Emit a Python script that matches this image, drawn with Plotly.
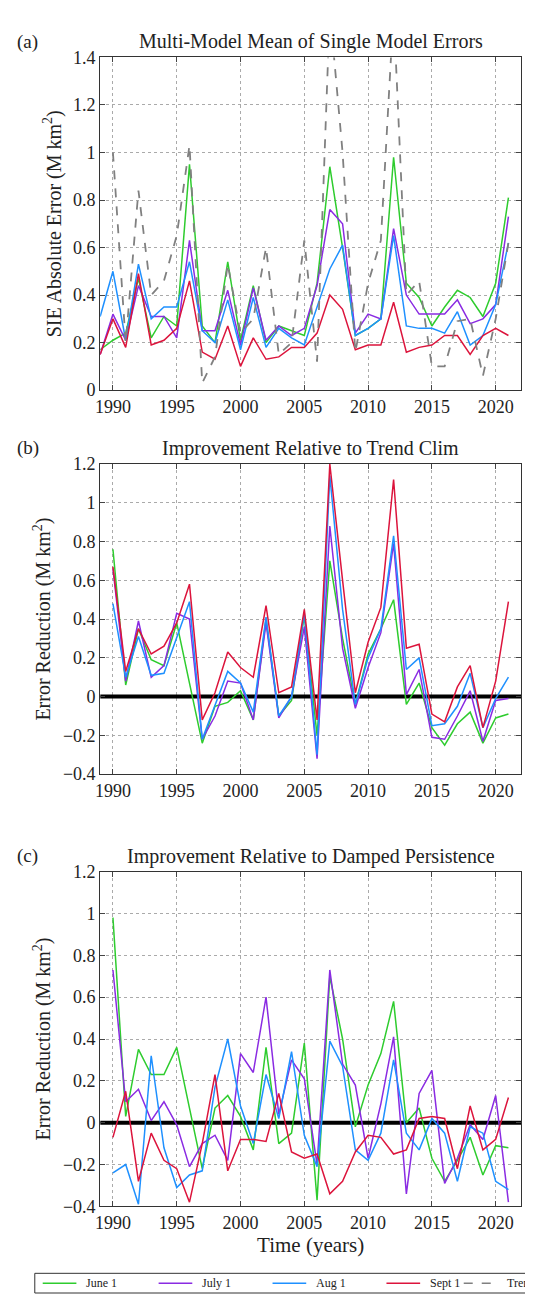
import plotly.graph_objects as go

years_a = list(range(1989, 2022))
years = list(range(1990, 2022))

# panel (a): multi-model mean of single model errors
err_june = [0.17, 0.21, 0.24, 0.47, 0.22, 0.31, 0.27, 0.95, 0.27, 0.20, 0.54, 0.21, 0.44, 0.20, 0.27, 0.25, 0.23,
            0.45, 0.94, 0.60, 0.23, 0.26, 0.30, 0.98, 0.45, 0.39, 0.27, 0.35, 0.42, 0.39, 0.31, 0.45, 0.81]
err_july = [0.15, 0.32, 0.21, 0.44, 0.31, 0.31, 0.22, 0.63, 0.25, 0.25, 0.42, 0.19, 0.43, 0.21, 0.27, 0.23, 0.26,
            0.44, 0.76, 0.70, 0.24, 0.32, 0.30, 0.68, 0.40, 0.32, 0.32, 0.32, 0.38, 0.28, 0.30, 0.36, 0.73]
err_aug = [0.31, 0.50, 0.21, 0.53, 0.30, 0.35, 0.35, 0.54, 0.25, 0.20, 0.38, 0.17, 0.39, 0.18, 0.26, 0.22, 0.19,
           0.35, 0.51, 0.61, 0.23, 0.26, 0.30, 0.65, 0.27, 0.26, 0.26, 0.24, 0.33, 0.19, 0.23, 0.36, 0.62]
err_sept = [0.15, 0.30, 0.18, 0.49, 0.19, 0.21, 0.26, 0.46, 0.16, 0.13, 0.27, 0.10, 0.22, 0.13, 0.14, 0.18, 0.18,
            0.24, 0.40, 0.34, 0.17, 0.19, 0.19, 0.37, 0.16, 0.18, 0.19, 0.23, 0.23, 0.15, 0.23, 0.26, 0.23]
err_trend = [1.00, 0.20, 0.84, 0.40, 0.46, 0.65, 1.03, 0.03, 0.14, 0.53, 0.24, 0.30, 0.60, 0.15, 0.20, 0.63,
             0.12, 1.60, 1.00, 0.16, 0.45, 0.63, 1.60, 0.40, 0.46, 0.10, 0.10, 0.29, 0.30, 0.06, 0.30, 0.62]

# panel (b): improvement relative to trend clim
tc_june = [0.76, 0.06, 0.35, 0.19, 0.16, 0.38, 0.07, -0.24, -0.05, -0.03, 0.03, -0.12, 0.40, -0.10, -0.02, 0.42,
           -0.20, 0.70, 0.30, -0.04, 0.22, 0.35, 0.50, -0.04, 0.07, -0.16, -0.25, -0.14, -0.08, -0.24, -0.11, -0.09]
tc_july = [0.66, 0.08, 0.39, 0.10, 0.16, 0.43, 0.40, -0.22, -0.10, 0.08, 0.07, -0.12, 0.38, -0.11, 0.00, 0.36,
           -0.32, 0.88, 0.25, -0.06, 0.15, 0.33, 0.79, 0.01, 0.14, -0.21, -0.22, -0.10, 0.03, -0.23, -0.02, -0.01]
tc_aug = [0.48, 0.10, 0.31, 0.11, 0.12, 0.30, 0.49, -0.22, -0.05, 0.13, 0.07, -0.08, 0.41, -0.10, 0.00, 0.43,
          -0.30, 1.14, 0.45, -0.04, 0.20, 0.35, 0.83, 0.14, 0.20, -0.15, -0.14, -0.05, 0.12, -0.16, -0.01, 0.10]
tc_sept = [0.67, 0.13, 0.35, 0.22, 0.26, 0.38, 0.58, -0.12, 0.02, 0.23, 0.15, 0.10, 0.47, 0.02, 0.05, 0.45,
           -0.12, 1.20, 0.60, 0.02, 0.28, 0.46, 1.12, 0.25, 0.27, -0.09, -0.13, 0.05, 0.16, -0.16, 0.08, 0.49]

# panel (c): improvement relative to damped persistence
dp_june = [0.98, 0.03, 0.35, 0.23, 0.23, 0.36, 0.07, -0.22, 0.07, 0.13, 0.03, -0.13, 0.36, -0.10, -0.05, 0.38,
           -0.37, 0.70, 0.40, -0.02, 0.18, 0.33, 0.58, 0.00, 0.07, -0.17, -0.28, -0.18, -0.07, -0.25, -0.11, -0.12]
dp_july = [0.73, 0.10, 0.16, 0.01, 0.10, -0.01, -0.21, -0.10, -0.06, -0.18, 0.33, 0.24, 0.60, 0.04, 0.30, 0.21,
           -0.20, 0.73, 0.28, 0.18, -0.17, 0.09, 0.41, -0.34, 0.14, 0.25, -0.29, -0.17, -0.01, -0.08, 0.13, -0.38]
dp_aug = [-0.24, -0.20, -0.39, 0.32, -0.12, -0.31, -0.25, -0.23, 0.17, 0.40, 0.08, -0.10, 0.23, 0.02, 0.34, -0.06,
          -0.21, 0.39, 0.27, -0.13, -0.18, -0.05, 0.30, -0.05, -0.13, 0.02, -0.05, -0.28, -0.02, -0.05, -0.28, -0.32]
dp_sept = [-0.07, 0.15, -0.28, -0.05, -0.18, -0.22, -0.38, -0.10, 0.23, -0.23, -0.08, -0.08, -0.09, 0.14, -0.14,
           -0.17, -0.15, -0.34, -0.28, -0.14, -0.06, -0.07, -0.15, -0.13, 0.02, 0.03, 0.02, -0.22, 0.08, -0.13, -0.08, 0.12]

labels = ["June 1", "July 1", "Aug 1", "Sept 1", "Trend"]
colors = ["#2ecc2e", "#8a2be2", "#1e90ff", "#dc143c", "#808080"]

W, H = 533, 1296
FONT = "Liberation Serif"


def py(px):
    return 1 - px / H


fig = go.Figure()

panels = [
    ("", "y", years_a, [err_june, err_july, err_aug, err_sept], (40, 378), [0, 1.4],
     "Multi-Model Mean of Single Model Errors", "SIE Absolute Error (M km<sup>2</sup>)", "(a)"),
    ("2", "y2", years, [tc_june, tc_july, tc_aug, tc_sept], (453, 768), [-0.4, 1.2],
     "Improvement Relative to Trend Clim", "Error Reduction (M km<sup>2</sup>)", "(b)"),
    ("3", "y3", years, [dp_june, dp_july, dp_aug, dp_sept], (867, 1207), [-0.4, 1.2],
     "Improvement Relative to Damped Persistence", "Error Reduction (M km<sup>2</sup>)", "(c)"),
]

x0, x1 = 88 / W, 513 / W
for i, (suf, yref, xs, series, (top, bot), yr, title, ylab, tag) in enumerate(panels):
    xa = "x" + suf
    if i > 0:
        fig.add_trace(go.Scatter(x=[1989, 2022], y=[0, 0], mode="lines", xaxis=xa, yaxis=yref,
                                 line=dict(color="black", width=4), showlegend=False))
    for s, c in zip(series, colors):
        fig.add_trace(go.Scatter(x=xs, y=s, mode="lines", xaxis=xa, yaxis=yref,
                                 line=dict(color=c, width=1.5), showlegend=False))
    if i == 0:
        fig.add_trace(go.Scatter(x=years, y=err_trend, mode="lines", xaxis=xa, yaxis=yref,
                                 line=dict(color=colors[4], width=1.8, dash="dash"), showlegend=False))
    axis = dict(showline=True, mirror="ticks", linecolor="#333", ticks="inside", ticklen=5,
                showgrid=True, gridcolor="#aaa", griddash="dot", gridwidth=1, zeroline=False,
                tickfont=dict(family=FONT, size=18, color="#222"))
    fig.layout["xaxis" + suf] = dict(axis, domain=[x0, x1], range=[1989, 2022], dtick=5, tick0=1990,
                                     anchor=yref, showticklabels=True)
    fig.layout["yaxis" + suf] = dict(axis, domain=[py(bot), py(top)], range=yr, dtick=0.2,
                                     anchor=xa, tickformat="~g",
                                     title=dict(text=ylab, font=dict(family=FONT, size=20, color="#222"),
                                                standoff=6))
    fig.add_annotation(x=(x0 + x1) / 2, y=py(top - 2), xref="paper", yref="paper", yanchor="bottom",
                       text=title, showarrow=False, font=dict(family=FONT, size=20, color="#222"))
    fig.add_annotation(x=2 / W, y=py(top - 16), xref="paper", yref="paper", xanchor="left",
                       yanchor="middle", text=tag, showarrow=False,
                       font=dict(family=FONT, size=19, color="#222"))

fig.layout.xaxis3.title = dict(text="Time (years)", font=dict(family=FONT, size=21, color="#222"), standoff=4)

# legend drawn by hand so it can run off the right edge like the reference
ly = py(1285)
fig.add_shape(type="rect", xref="paper", yref="paper", x0=22 / W, x1=1.05, y0=py(1295), y1=py(1275),
              line=dict(color="#333", width=1))
starts = [30, 147, 262, 377, 455]
for lab, c, sx in zip(labels, colors, starts):
    fig.add_shape(type="line", xref="paper", yref="paper", x0=sx / W, x1=(sx + 34) / W, y0=ly, y1=ly,
                  line=dict(color=c, width=1.5, dash="dash" if lab == "Trend" else "solid"))
    fig.add_annotation(x=(sx + 42) / W, y=ly, xref="paper", yref="paper", xanchor="left",
                       yanchor="middle", text=lab, showarrow=False,
                       font=dict(family=FONT, size=12, color="#222"))

fig.update_layout(width=W, height=H, margin=dict(l=0, r=0, t=0, b=0),
                  plot_bgcolor="white", paper_bgcolor="white", showlegend=False)
fig.write_html("out.html")
